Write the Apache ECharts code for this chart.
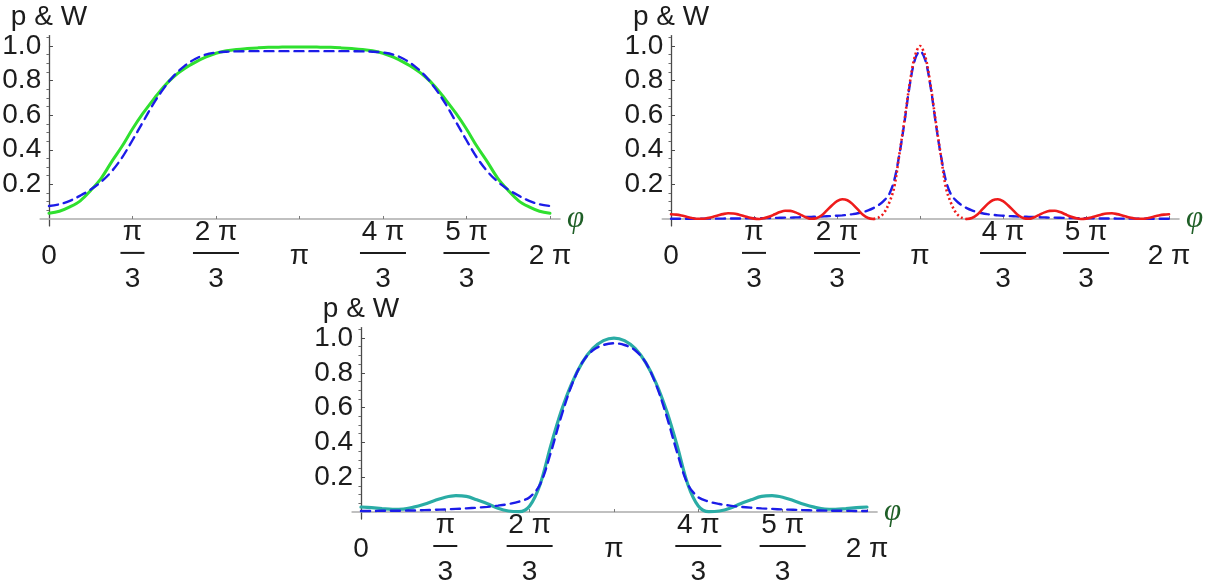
<!DOCTYPE html>
<html>
<head>
<meta charset="utf-8">
<title>p &amp; W versus φ</title>
<script src="https://cdn.jsdelivr.net/npm/echarts@6/dist/echarts.min.js"></script>
<style>
  html, body { margin: 0; padding: 0; background: #ffffff; }
  #chart { width: 1209px; height: 583px; }
</style>
</head>
<body>
<div id="chart"></div>
<script>
// Sampling grids for φ, in units of π
const phi24 = [0, 0.0417, 0.0833, 0.125, 0.1667, 0.2083, 0.25, 0.2917, 0.3333, 0.375, 0.4167, 0.4583,
  0.5, 0.5417, 0.5833, 0.625, 0.6667, 0.7083, 0.75, 0.7917, 0.8333, 0.875, 0.9167, 0.9583,
  1, 1.0417, 1.0833, 1.125, 1.1667, 1.2083, 1.25, 1.2917, 1.3333, 1.375, 1.4167, 1.4583,
  1.5, 1.5417, 1.5833, 1.625, 1.6667, 1.7083, 1.75, 1.7917, 1.8333, 1.875, 1.9167, 1.9583, 2];

const phi48 = [0, 0.0208, 0.0417, 0.0625, 0.0833, 0.1042, 0.125, 0.1458, 0.1667, 0.1875, 0.2083, 0.2292,
  0.25, 0.2708, 0.2917, 0.3125, 0.3333, 0.3542, 0.375, 0.3958, 0.4167, 0.4375, 0.4583, 0.4792,
  0.5, 0.5208, 0.5417, 0.5625, 0.5833, 0.6042, 0.625, 0.6458, 0.6667, 0.6875, 0.7083, 0.7292,
  0.75, 0.7708, 0.7917, 0.8125, 0.8333, 0.8542, 0.875, 0.8958, 0.9167, 0.9375, 0.9583, 0.9792,
  1, 1.0208, 1.0417, 1.0625, 1.0833, 1.1042, 1.125, 1.1458, 1.1667, 1.1875, 1.2083, 1.2292,
  1.25, 1.2708, 1.2917, 1.3125, 1.3333, 1.3542, 1.375, 1.3958, 1.4167, 1.4375, 1.4583, 1.4792,
  1.5, 1.5208, 1.5417, 1.5625, 1.5833, 1.6042, 1.625, 1.6458, 1.6667, 1.6875, 1.7083, 1.7292,
  1.75, 1.7708, 1.7917, 1.8125, 1.8333, 1.8542, 1.875, 1.8958, 1.9167, 1.9375, 1.9583, 1.9792, 2];

// Upper-left panel: p (green) and W (blue, dashed), on phi24
const pLeft = [0.033, 0.045, 0.07, 0.105, 0.165, 0.235, 0.33, 0.42, 0.52, 0.61, 0.69, 0.765,
  0.825, 0.87, 0.905, 0.935, 0.958, 0.972, 0.98, 0.985, 0.989, 0.992, 0.993, 0.994,
  0.994, 0.994, 0.993, 0.992, 0.989, 0.985, 0.98, 0.972, 0.958, 0.935, 0.905, 0.87,
  0.825, 0.765, 0.69, 0.61, 0.52, 0.42, 0.33, 0.235, 0.165, 0.105, 0.07, 0.045, 0.033];
const wLeft = [0.075, 0.085, 0.105, 0.135, 0.17, 0.215, 0.275, 0.355, 0.455, 0.56, 0.665, 0.755,
  0.83, 0.885, 0.925, 0.95, 0.962, 0.967, 0.969, 0.97, 0.97, 0.97, 0.97, 0.97,
  0.97, 0.97, 0.97, 0.97, 0.97, 0.97, 0.969, 0.967, 0.962, 0.95, 0.925, 0.885,
  0.83, 0.755, 0.665, 0.56, 0.455, 0.355, 0.275, 0.215, 0.17, 0.135, 0.105, 0.085, 0.075];

// Upper-right panel: p (red) and W (blue, dashed), on phi48
const pRight = [0.027, 0.025, 0.02, 0.013, 0.006, 0.001, 0.001, 0.005, 0.012, 0.02, 0.028, 0.033,
  0.032, 0.026, 0.017, 0.008, 0.002, 0.0, 0.005, 0.014, 0.027, 0.04, 0.048, 0.047,
  0.038, 0.024, 0.01, 0.001, 0.004, 0.02, 0.048, 0.078, 0.103, 0.114, 0.108, 0.086,
  0.055, 0.024, 0.006, 0.0, 0.008, 0.033, 0.09, 0.18, 0.37, 0.57, 0.78, 0.94,
  1.0, 0.94, 0.78, 0.57, 0.37, 0.18, 0.09, 0.033, 0.008, 0.0, 0.006, 0.024,
  0.055, 0.086, 0.108, 0.114, 0.103, 0.078, 0.048, 0.02, 0.004, 0.001, 0.01, 0.024,
  0.038, 0.047, 0.048, 0.04, 0.027, 0.014, 0.005, 0.0, 0.002, 0.008, 0.017, 0.026,
  0.032, 0.033, 0.028, 0.02, 0.012, 0.005, 0.001, 0.001, 0.006, 0.013, 0.02, 0.025, 0.027];
const wRight = [0.001, 0.001, 0.001, 0.001, 0.001, 0.001, 0.002, 0.002, 0.002, 0.002, 0.002, 0.003,
  0.003, 0.003, 0.003, 0.004, 0.004, 0.004, 0.005, 0.005, 0.006, 0.007, 0.008, 0.008,
  0.009, 0.01, 0.011, 0.012, 0.013, 0.014, 0.016, 0.017, 0.019, 0.021, 0.024, 0.028,
  0.033, 0.04, 0.05, 0.063, 0.08, 0.105, 0.14, 0.22, 0.37, 0.56, 0.77, 0.92,
  0.97, 0.92, 0.77, 0.56, 0.37, 0.22, 0.14, 0.105, 0.08, 0.063, 0.05, 0.04,
  0.033, 0.028, 0.024, 0.021, 0.019, 0.017, 0.016, 0.014, 0.013, 0.012, 0.011, 0.01,
  0.009, 0.008, 0.008, 0.007, 0.006, 0.005, 0.005, 0.004, 0.004, 0.004, 0.003, 0.003,
  0.003, 0.003, 0.002, 0.002, 0.002, 0.002, 0.002, 0.001, 0.001, 0.001, 0.001, 0.001, 0.001];

// Lower panel: p (teal) and W (blue, dashed), on phi24
const pLower = [0.029, 0.025, 0.02, 0.016, 0.017, 0.028, 0.045, 0.066, 0.085, 0.094, 0.09, 0.07,
  0.048, 0.022, 0.006, 0.002, 0.035, 0.16, 0.38, 0.58, 0.74, 0.86, 0.94, 0.985,
  1.0, 0.985, 0.94, 0.86, 0.74, 0.58, 0.38, 0.16, 0.035, 0.002, 0.006, 0.022,
  0.048, 0.07, 0.09, 0.094, 0.085, 0.066, 0.045, 0.028, 0.017, 0.016, 0.02, 0.025, 0.029];
const wLower = [0.006, 0.006, 0.007, 0.007, 0.008, 0.009, 0.011, 0.013, 0.015, 0.018, 0.021, 0.025,
  0.03, 0.037, 0.046, 0.06, 0.085, 0.16, 0.34, 0.55, 0.73, 0.86, 0.93, 0.96,
  0.97, 0.96, 0.93, 0.86, 0.73, 0.55, 0.34, 0.16, 0.085, 0.06, 0.046, 0.037,
  0.03, 0.025, 0.021, 0.018, 0.015, 0.013, 0.011, 0.009, 0.008, 0.007, 0.007, 0.006, 0.006];

// Tick positions (units of π) and their labels
const xTickValues = [0, 1 / 3, 2 / 3, 1, 4 / 3, 5 / 3, 2];
const xTickText = ['0', 'π/3', '2 π/3', 'π', '4 π/3', '5 π/3', '2 π'];
const yTickValues = [0.2, 0.4, 0.6, 0.8, 1.0];
const yMinorValues = [0.05, 0.1, 0.15, 0.25, 0.3, 0.35, 0.45, 0.5, 0.55, 0.65, 0.7, 0.75, 0.85, 0.9, 0.95, 1.05];

// ---- styling & layout ----
const INK = '#1c1c1c';
const SANS = "'Liberation Sans', Arial, sans-serif";
const SERIF = "'Liberation Serif', 'DejaVu Serif', serif";
const FS = 28;
const X_MIN = -0.035, X_MAX = 2.04;
const Y_MIN = -0.04, Y_MAX = 1.06;
const GREEN = '#2fe02f', BLUE = '#1c1ce8', RED = '#ee1b1b', TEAL = '#2aaca5';

const panels = [
  { left: 40.2, top: 35.6, width: 519.8, height: 190.3 },
  { left: 662.3, top: 35.6, width: 516.7, height: 190.3 },
  { left: 352.1, top: 327.6, width: 525, height: 191.4 }
];

// Stacked fractions: numerator, a short rule, denominator
const RICH = {
  num: { fontFamily: SANS, fontSize: FS, color: INK, lineHeight: 30, align: 'center' },
  barS: { width: 24, height: 2, lineHeight: 12, backgroundColor: INK, align: 'center' },
  barL: { width: 46, height: 2, lineHeight: 12, backgroundColor: INK, align: 'center' },
  den: { fontFamily: SANS, fontSize: FS, color: INK, lineHeight: 40, align: 'center' },
  whole: { fontFamily: SANS, fontSize: FS, color: INK, lineHeight: 78, align: 'center' }
};

function xLabel(v) {
  let i = 0;
  xTickValues.forEach((t, k) => { if (Math.abs(t - v) < 1e-6) i = k; });
  const s = xTickText[i];
  if (s.indexOf('/') >= 0) {
    const parts = s.split('/');
    const bar = parts[0].length > 1 ? 'barL' : 'barS';
    return '{num|' + parts[0] + '}\n{' + bar + '|}\n{den|' + parts[1] + '}';
  }
  return '{whole|' + s + '}';
}

const grids = [], xAxes = [], yAxes = [];
panels.forEach((g, i) => {
  grids.push(Object.assign({ containLabel: false, outerBoundsMode: 'none' }, g));
  xAxes.push({
    type: 'value', gridIndex: i, min: X_MIN, max: X_MAX,
    axisLine: { show: true, onZero: true, lineStyle: { color: '#acacac', width: 1.6 } },
    axisTick: { show: true, inside: true, length: 3, customValues: xTickValues.slice(1),
      lineStyle: { color: '#7a7a7a', width: 1 } },
    axisLabel: { show: true, customValues: xTickValues, margin: -9, formatter: xLabel, rich: RICH,
      color: INK, fontFamily: SANS, fontSize: FS },
    splitLine: { show: false },
    name: 'φ', nameLocation: 'end', nameGap: 7,
    nameTextStyle: { fontFamily: SERIF, fontStyle: 'italic', fontSize: 31, color: '#1f5f27',
      verticalAlign: 'middle' }
  });
  yAxes.push({
    type: 'value', gridIndex: i, min: Y_MIN, max: Y_MAX,
    axisLine: { show: true, onZero: true, onZeroAxisIndex: i, lineStyle: { color: '#4a4a4a', width: 1.3 } },
    axisTick: { show: true, inside: true, length: 4, customValues: yTickValues,
      lineStyle: { color: '#4a4a4a', width: 1 } },
    axisLabel: { show: true, customValues: yTickValues, margin: -1, formatter: v => v.toFixed(1),
      color: INK, fontFamily: SANS, fontSize: FS },
    splitLine: { show: false },
    name: 'p & W', nameLocation: 'end', nameGap: 4,
    nameTextStyle: { fontFamily: SANS, fontSize: FS, color: INK, align: 'center' }
  });
  // second y axis on the same line, carrying only the minor ticks
  yAxes.push({
    type: 'value', gridIndex: i, min: Y_MIN, max: Y_MAX,
    axisLine: { show: true, onZero: true, onZeroAxisIndex: i, lineStyle: { color: '#4a4a4a', opacity: 0 } },
    axisTick: { show: true, inside: true, length: 2.5, customValues: yMinorValues,
      lineStyle: { color: '#6a6a6a', width: 1 } },
    axisLabel: { show: false },
    splitLine: { show: false }
  });
});

function pts(xs, ys) { return xs.map((x, k) => [x, ys[k]]); }

function line(panel, data, color, width, type, cap) {
  return {
    type: 'line', xAxisIndex: panel, yAxisIndex: panel * 2, data: data,
    showSymbol: false, smooth: 0.35, silent: true, animation: false,
    lineStyle: { color: color, width: width, type: type || 'solid', cap: cap || 'round' }
  };
}

const redAll = pts(phi48, pRight);
const DASH = [9, 6];

const series = [
  line(0, pts(phi24, pLeft), GREEN, 3),
  line(0, pts(phi24, wLeft), BLUE, 2.4, DASH),
  line(1, pts(phi48, wRight), BLUE, 2.4, DASH),
  line(1, redAll.slice(0, 40), RED, 2.6),
  line(1, redAll.slice(39, 58), RED, 2.6, [2, 2.6], 'butt'),
  line(1, redAll.slice(57), RED, 2.6),
  line(2, pts(phi24, pLower), TEAL, 3.2),
  line(2, pts(phi24, wLower), BLUE, 2.4, DASH)
];

const chart = echarts.init(document.getElementById('chart'), null, { renderer: 'canvas' });
chart.setOption({
  animation: false,
  backgroundColor: '#ffffff',
  textStyle: { fontFamily: SANS },
  grid: grids,
  xAxis: xAxes,
  yAxis: yAxes,
  series: series
});
</script>
</body>
</html>
